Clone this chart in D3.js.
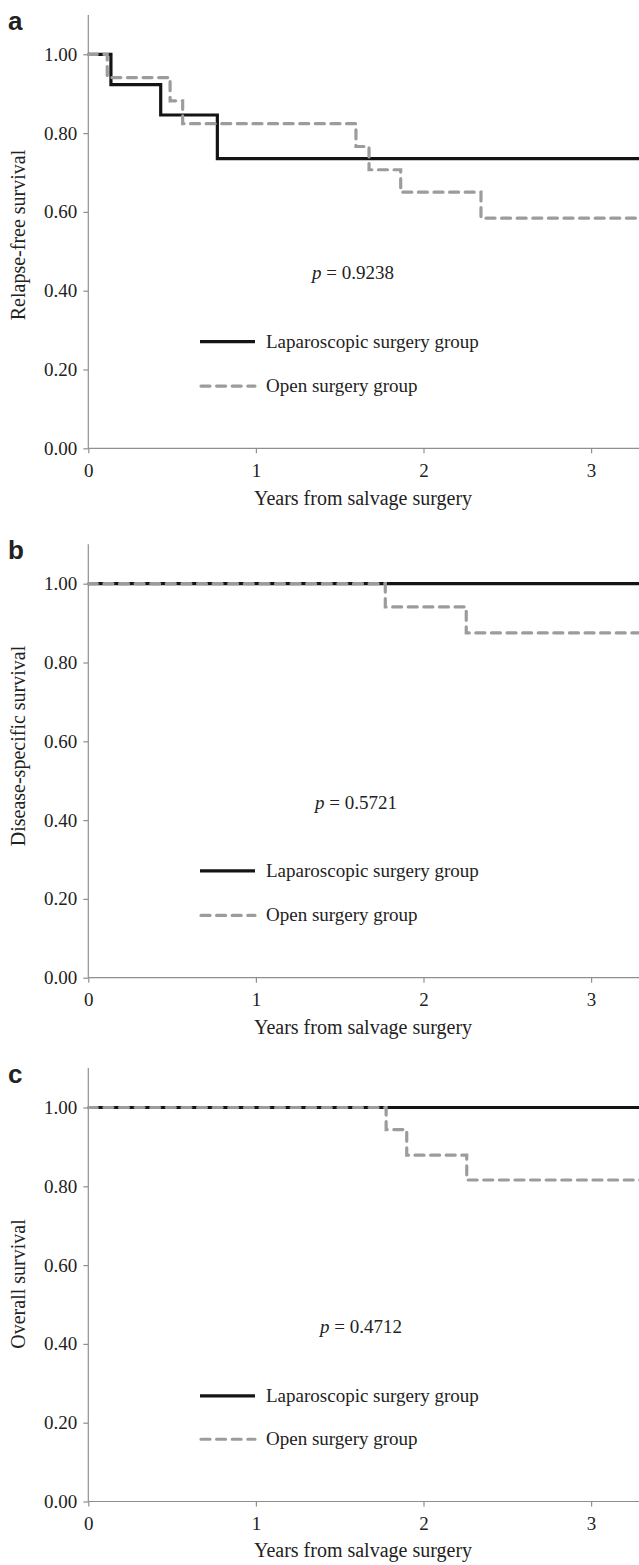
<!DOCTYPE html>
<html><head><meta charset="utf-8">
<script src="https://cdn.jsdelivr.net/npm/d3@7"></script>
<style>
html,body{margin:0;padding:0;background:#fff;}
svg{display:block;}
text{font-family:"Liberation Serif","Times New Roman",serif;fill:#222;}
</style></head>
<body>
<svg id="c" width="639" height="1565"></svg>
<script>
// ---------- data ----------
const xTicks = [0, 1, 2, 3];
const xTickLabels = ["0", "1", "2", "3"];
const yTicks = [0, 0.2, 0.4, 0.6, 0.8, 1.0];
const yTickLabels = ["0.00", "0.20", "0.40", "0.60", "0.80", "1.00"];
const panelLetters = ["a", "b", "c"];
const yTitles = ["Relapse-free survival", "Disease-specific survival", "Overall survival"];
const xTitle = "Years from salvage surgery";
const pValues = ["0.9238", "0.5721", "0.4712"];
const seriesNames = ["Laparoscopic surgery group", "Open surgery group"];

// Kaplan-Meier step change points (years, survival)
const lapTimes = [[0, 0.135, 0.432, 0.770], [0], [0]];
const lapSurv  = [[1, 0.923, 0.846, 0.735], [1], [1]];
const openTimes = [[0, 0.113, 0.488, 0.563, 1.597, 1.675, 1.864, 2.343], [0, 1.772, 2.255], [0, 1.777, 1.900, 2.258]];
const openSurv  = [[1, 0.941, 0.882, 0.824, 0.766, 0.707, 0.650, 0.584], [1, 0.941, 0.875], [1, 0.944, 0.879, 0.816]];

// ---------- layout ----------
const xMax = 3.31;
const x0px = 88.3, yearPx = 167.6;
const unitPx = 394;
const zeroY = [448.3, 977.7, 1501.5];
const xTitleOffset = [57, 56, 55];
const yTitleCenter = [235, 746, 1284];
const pX = [312, 315, 320];
const lapLegendVal = [0.271, 0.271, 0.268];
const openLegendVal = [0.158, 0.158, 0.158];

const svg = d3.select("#c");
svg.append("rect").attr("width", 639).attr("height", 1565).attr("fill", "#fff");

const xScale = d3.scaleLinear().domain([0, xMax]).range([x0px, x0px + yearPx * xMax]);

const axisColor = "#8f8f8f";
const lapColor = "#141414";
const openColor = "#9c9c9c";

function stepData(times, surv) {
  const pts = times.map((t, i) => [t, surv[i]]);
  pts.push([xMax, surv[surv.length - 1]]);
  return pts;
}

panelLetters.forEach((letter, i) => {
  const yScale = d3.scaleLinear().domain([0, 1.1]).range([zeroY[i], zeroY[i] - unitPx * 1.1]);
  const g = svg.append("g");

  // y axis
  const yAxis = d3.axisLeft(yScale).tickValues(yTicks).tickSize(5).tickPadding(6)
    .tickFormat((d, k) => yTickLabels[k]);
  const ya = g.append("g").attr("transform", `translate(${x0px},0)`).call(yAxis);
  ya.select(".domain").attr("stroke", axisColor).attr("stroke-width", 1.2)
    .attr("d", `M0,${zeroY[i]}V${yScale(1.1)}`);
  ya.selectAll(".tick line").attr("stroke", axisColor).attr("stroke-width", 1.2);
  ya.selectAll(".tick text").attr("font-size", 19).attr("fill", "#222")
    .style("font-family", '"Liberation Serif",serif');

  // x axis
  const xAxis = d3.axisBottom(xScale).tickValues(xTicks).tickSize(5).tickPadding(10)
    .tickFormat((d, k) => xTickLabels[k]);
  const xa = g.append("g").attr("transform", `translate(0,${zeroY[i]})`).call(xAxis);
  xa.select(".domain").attr("stroke", axisColor).attr("stroke-width", 1.2)
    .attr("d", `M${x0px},0H${xScale(xMax)}`);
  xa.selectAll(".tick line").attr("stroke", axisColor).attr("stroke-width", 1.2);
  xa.selectAll(".tick text").attr("font-size", 19).attr("fill", "#222")
    .style("font-family", '"Liberation Serif",serif');

  // titles
  g.append("text").attr("x", 363).attr("y", zeroY[i] + xTitleOffset[i])
    .attr("text-anchor", "middle").attr("font-size", 20).text(xTitle);
  g.append("text").attr("transform", `translate(25,${yTitleCenter[i]}) rotate(-90)`)
    .attr("text-anchor", "middle").attr("font-size", 20).text(yTitles[i]);

  // panel letter
  g.append("text").attr("x", 8).attr("y", yScale(1.1) + 15)
    .style("font-family", '"Liberation Sans",Arial,sans-serif')
    .attr("font-weight", "bold").attr("font-size", 26).attr("fill", "#111").text(letter);

  // curves
  const line = d3.line().x(d => xScale(d[0])).y(d => yScale(d[1])).curve(d3.curveStepAfter);
  g.append("path").datum(stepData(lapTimes[i], lapSurv[i]))
    .attr("d", line).attr("fill", "none").attr("stroke", lapColor).attr("stroke-width", 3.2);
  g.append("path").datum(stepData(openTimes[i], openSurv[i]))
    .attr("d", line).attr("fill", "none").attr("stroke", openColor).attr("stroke-width", 3.2)
    .attr("stroke-dasharray", "9,6.6").attr("stroke-linecap", "round");

  // p-value
  const pt = g.append("text").attr("x", pX[i]).attr("y", yScale(0.445) + 6.5).attr("font-size", 19);
  pt.append("tspan").attr("font-style", "italic").text("p");
  pt.append("tspan").text(" = " + pValues[i]);

  // legend
  const ly1 = yScale(lapLegendVal[i]), ly2 = yScale(openLegendVal[i]);
  g.append("line").attr("x1", 200).attr("x2", 255).attr("y1", ly1).attr("y2", ly1)
    .attr("stroke", lapColor).attr("stroke-width", 3.2);
  g.append("text").attr("x", 266).attr("y", ly1 + 6).attr("font-size", 19).text(seriesNames[0]);
  g.append("line").attr("x1", 201).attr("x2", 255).attr("y1", ly2).attr("y2", ly2)
    .attr("stroke", openColor).attr("stroke-width", 3.2)
    .attr("stroke-dasharray", "9,6.6").attr("stroke-linecap", "round");
  g.append("text").attr("x", 266).attr("y", ly2 + 6).attr("font-size", 19).text(seriesNames[1]);
});
</script>
</body></html>
